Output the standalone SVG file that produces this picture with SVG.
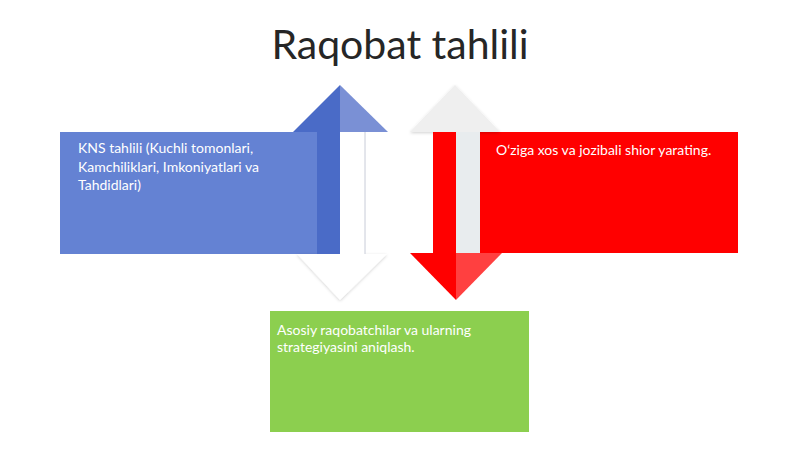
<svg xmlns="http://www.w3.org/2000/svg" width="800" height="449" viewBox="0 0 800 449">
<defs>
<style>
.t{font-family:Lato,"Open Sans","Liberation Sans",sans-serif;}
.lbl{font-size:14px;fill:#ffffff;}
</style>
<filter id="sh" x="-20%" y="-20%" width="140%" height="140%">
<feDropShadow dx="0" dy="1" stdDeviation="1.5" flood-color="#000" flood-opacity="0.18"/>
</filter>
</defs>
<rect width="800" height="449" fill="#ffffff"/>
<text class="t" x="400" y="59" font-size="41" fill="#262626" text-anchor="middle">Raqobat tahlili</text>

<g id="node-blue">
<rect x="60" y="132" width="281" height="122" fill="#6482d3"/>
<text class="t lbl" x="78" y="153">KNS tahlili (Kuchli tomonlari,</text>
<text class="t lbl" x="78" y="172">Kamchiliklari, Imkoniyatlari va</text>
<text class="t lbl" x="78" y="190">Tahdidlari)</text>
</g>

<g id="node-red">
<rect x="480" y="132" width="258" height="121" fill="#ff0000"/>
<text class="t lbl" x="496" y="155">O‘ziga xos va jozibali shior yarating.</text>
</g>

<g id="node-green">
<rect x="270" y="311" width="259" height="121" fill="#8ccf4f"/>
<text class="t lbl" x="277" y="335" fill="#f2fbe0">Asosiy raqobatchilar va ularning</text>
<text class="t lbl" x="277" y="352" fill="#f2fbe0">strategiyasini aniqlash.</text>
</g>

<g id="connectors">
<g id="arrow-up">
<polygon points="297,254 387,254 340,300" fill="#ffffff" filter="url(#sh)"/>
<polygon points="293,132 340,85 340,132" fill="#4a6bc7"/>
<polygon points="340,85 388,132 340,132" fill="#7a90d5"/>
<rect x="317" y="132" width="23" height="122" fill="#4a6bc7"/>
<rect x="340" y="132" width="25" height="122" fill="#ffffff"/>
<line x1="365" y1="132" x2="365" y2="254" stroke="#c8ccd8" stroke-width="1"/>
</g>
<g id="arrow-down">
<polygon points="410,132 455,85 500,132" fill="#efefef" filter="url(#sh)"/>
<rect x="456" y="132" width="24" height="121" fill="#e8ecee"/>
<rect x="433" y="132" width="23" height="121" fill="#ff0000"/>
<polygon points="410,253 456,253 456,300" fill="#ff0000"/>
<polygon points="456,253 502,253 456,300" fill="#ff4040"/>
</g>
</g>
</svg>
